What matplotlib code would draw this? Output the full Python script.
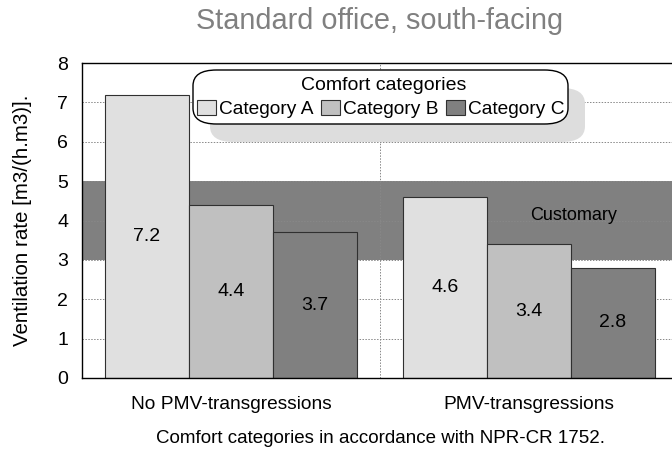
import matplotlib
matplotlib.use("Agg")
import matplotlib.pyplot as plt
from matplotlib.patches import FancyBboxPatch, Patch
import numpy as np

plt.rcParams['font.family'] = ['Liberation Sans', 'DejaVu Sans']

categories = ["No PMV-transgressions", "PMV-transgressions"]
series_names = ["Category A", "Category B", "Category C"]
values = {
    "Category A": [7.2, 4.6],
    "Category B": [4.4, 3.4],
    "Category C": [3.7, 2.8],
}
colors = ["#e0e0e0", "#c0c0c0", "#808080"]
band_low, band_high = 3, 5
yticks = [0, 1, 2, 3, 4, 5, 6, 7, 8]

fig = plt.figure(figsize=(6.72, 4.49), dpi=100)
W, H = 672, 449
ax = fig.add_axes([82 / W, 1 - 378 / H, (678 - 82) / W, (378 - 63) / H])
ax.set_xlim(0, 2)
ax.set_ylim(0, 8)

# customary band
ax.axhspan(band_low, band_high, color="#808080", zorder=0.5, lw=0)
ax.text(1.65, 4.13, "Customary", ha="center", va="center", fontsize=13, zorder=3)

# grid
for y in yticks[1:-1]:
    ax.axhline(y, color="#888888", lw=0.7, ls=(0, (1.5, 1.5)), zorder=0.8)
ax.axvline(1, color="#888888", lw=0.7, ls=(0, (1.5, 1.5)), zorder=0.8)

bw = 84 / 298
x = np.arange(len(categories)) + 0.5
handles = []
for i, name in enumerate(series_names):
    pos = x + (i - 1) * bw
    ax.bar(pos, values[name], width=bw, color=colors[i], edgecolor="#303030",
           lw=0.8, zorder=2, label=name)
    handles.append(Patch(facecolor=colors[i], edgecolor="#303030", lw=0.8))
    for xp, v in zip(pos, values[name]):
        ax.text(xp, v / 2, f"{v}", ha="center", va="center", fontsize=14, zorder=3)

ax.set_xticks(x)
ax.set_xticklabels(categories, fontsize=13.8)
ax.set_yticks(yticks)
ax.set_yticklabels([str(t) for t in yticks], fontsize=14)
ax.tick_params(axis="both", length=0)
ax.tick_params(axis="y", pad=10)
ax.tick_params(axis="x", pad=13)
for s in ax.spines.values():
    s.set_color("#000000")
    s.set_linewidth(1.0)

ax.set_ylabel("Ventilation rate [m3/(h.m3)].", fontsize=14.8, labelpad=18)
ax.set_xlabel("Comfort categories in accordance with NPR-CR 1752.", fontsize=13.5, labelpad=12)

fig.text(380 / W, 1 - 21 / H, "Standard office, south-facing", ha="center", va="center",
         fontsize=20.8, color="#808080")

# legend shadow & box (figure pixel coords)
def fig_box(x0, y0, x1, y1, **kw):
    p = FancyBboxPatch((x0 / W, 1 - y1 / H), (x1 - x0) / W, (y1 - y0) / H,
                       boxstyle="round,pad=0,rounding_size=0.035",
                       transform=fig.transFigure, **kw)
    fig.add_artist(p)
    return p

fig_box(210, 88, 585, 142, facecolor="#dddddd", edgecolor="none", zorder=5)
fig_box(193, 70, 568, 124, facecolor="white", edgecolor="black", lw=1.0, zorder=6)

fig.text(384 / W, 1 - 86 / H, "Comfort categories", ha="center", va="center",
         fontsize=14, zorder=7)
leg = fig.legend(handles, series_names, loc="center left", bbox_to_anchor=(193 / W, 1 - 109 / H),
                 ncol=3, frameon=False, fontsize=13.8, handlelength=1.0, handleheight=0.8,
                 handletextpad=0.15, columnspacing=0.4, borderaxespad=0, borderpad=0.2)
leg.set_zorder(7)

fig.savefig("out.png", dpi=100)
